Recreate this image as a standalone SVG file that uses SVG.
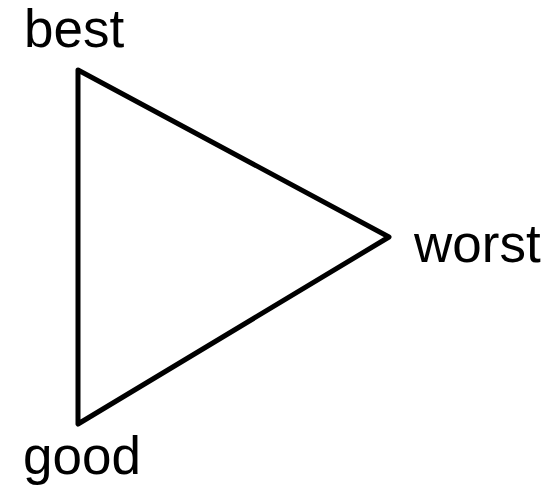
<svg xmlns="http://www.w3.org/2000/svg" width="552" height="493" viewBox="0 0 552 493">
<style>
.lbl{font-family:"Liberation Sans",Arial,sans-serif;font-size:53px;fill:#000}
.edge{fill:none;stroke:#000;stroke-width:5;stroke-linejoin:round;stroke-linecap:round}
</style>
<rect width="552" height="493" fill="#fff"/>
<g id="connectors">
<path class="edge" d="M78,70 L389,237 L78,424 Z"/>
</g>
<g id="best"><text class="lbl" x="24" y="47">best</text></g>
<g id="worst"><text class="lbl" x="414" y="262">worst</text></g>
<g id="good"><text class="lbl" x="23" y="474">good</text></g>
</svg>
